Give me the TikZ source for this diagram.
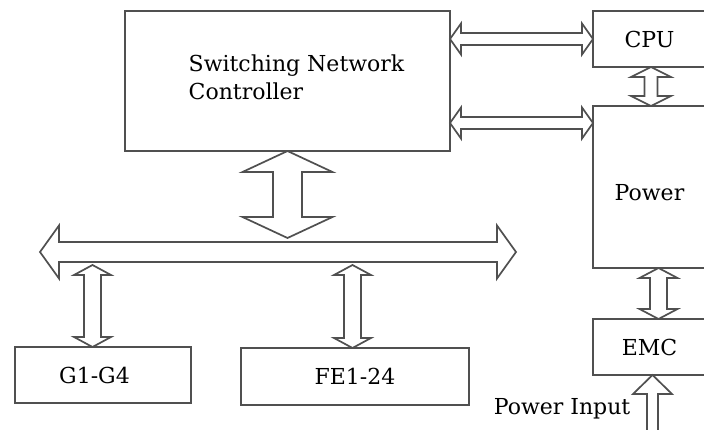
\documentclass[tikz,border=0pt]{standalone}
\usepackage{fontspec}
\setmainfont{DejaVu Serif}
\usetikzlibrary{calc}
\definecolor{linegray}{RGB}{80,80,80}
% double-headed block arrow: #1 end, #2 other end, #3 shaft half width, #4 head half width, #5 head length
\newcommand\blockdbl[5]{%
  \draw[blk] (#1) -- ($(#1)!#5!(#2)!#4!90:(#2)$) -- ($(#1)!#5!(#2)!#3!90:(#2)$)
    -- ($(#2)!#5!(#1)!#3!-90:(#1)$) -- ($(#2)!#5!(#1)!#4!-90:(#1)$) -- (#2)
    -- ($(#2)!#5!(#1)!#4!90:(#1)$) -- ($(#2)!#5!(#1)!#3!90:(#1)$)
    -- ($(#1)!#5!(#2)!#3!-90:(#2)$) -- ($(#1)!#5!(#2)!#4!-90:(#2)$) -- cycle;}
% single-headed block arrow: #1 tail, #2 tip
\newcommand\blocksgl[5]{%
  \draw[blk] ($(#1)!#3!90:(#2)$) -- ($(#2)!#5!(#1)!#3!-90:(#1)$) -- ($(#2)!#5!(#1)!#4!-90:(#1)$)
    -- (#2) -- ($(#2)!#5!(#1)!#4!90:(#1)$) -- ($(#2)!#5!(#1)!#3!90:(#1)$)
    -- ($(#1)!#3!-90:(#2)$) -- cycle;}
\newcommand\lowered[2]{\raisebox{-#1}[\height][\depth]{#2}}
\begin{document}
\begin{tikzpicture}[x=1pt,y=-1pt,
  ln/.style={draw=linegray, line width=1.7pt, line join=miter},
  lbl/.style={font=\fontsize{22}{29}\selectfont, text=black},
  box/.style={ln, lbl, rectangle, anchor=north west, outer sep=0pt, inner sep=0pt},
  blk/.style={ln, fill=white}]
\useasboundingbox (0,0) rectangle (704,430);
\clip (0,0) rectangle (704,430);
\fill[white] (0,0) rectangle (704,430);

\node[box, minimum width=325pt, minimum height=140pt, align=left] (snc) at (125,11) {\hspace*{18pt}\lowered{-1pt}{\begin{tabular}{@{}l@{}}Switching Network\\[-1pt]Controller\end{tabular}}};
\node[box, minimum width=113pt, minimum height=56pt] (cpu) at (593,11) {CPU};
\node[box, minimum width=113pt, minimum height=162pt] (power) at (593,106) {\lowered{6pt}{Power}};
\node[box, minimum width=113pt, minimum height=56pt] (emc) at (593,319) {EMC};
\node[box, minimum width=176pt, minimum height=56pt] (g) at (15,347) {G1-G4\hspace*{17pt}};
\node[box, minimum width=228pt, minimum height=57pt] (fe) at (241,348) {FE1-24};

\coordinate (busL) at (40,252);
\coordinate (busR) at (516,252);

% SNC <-> CPU, SNC <-> Power
\coordinate (a1s) at (snc.east |- cpu.west);
\blockdbl{a1s}{cpu.west}{6pt}{15.5pt}{11pt}
\coordinate (a2s) at ($(snc.north east)!0.8!(snc.south east)$);
\coordinate (a2e) at (a2s -| power.west);
\blockdbl{a2s}{a2e}{6pt}{15.5pt}{11pt}

% CPU <-> Power
\coordinate (c1) at ($(cpu.south)+(1.5,0)$);
\coordinate (c2) at (c1 |- power.north);
\blockdbl{c1}{c2}{6.5pt}{20pt}{10pt}

% Power <-> EMC
\coordinate (d1) at ($(power.south)+(9,0)$);
\coordinate (d2) at (d1 |- emc.north);
\blockdbl{d1}{d2}{8.5pt}{19pt}{10pt}

% Power input
\coordinate (e2) at ($(emc.south)+(3,0)$);
\coordinate (e1) at ($(e2)+(0,70)$);
\blocksgl{e1}{e2}{5.5pt}{19.5pt}{19pt}
\node[lbl, anchor=east, inner sep=0pt] (pin) at ($(e2)+(-22,34)$) {Power Input};

% bus
\blockdbl{busL}{busR}{10pt}{26.5pt}{19pt}

% SNC <-> bus
\coordinate (b0) at (snc.south |- busL);
\coordinate (b1) at ($(b0)+(0,-14)$);
\blockdbl{snc.south}{b1}{14.5pt}{45pt}{21pt}

% bus <-> G1-G4
\coordinate (g1) at ($(g.north)+(-10.5,0)$);
\coordinate (g0) at (g1 |- busL);
\coordinate (g2) at ($(g0)+(0,13)$);
\blockdbl{g2}{g1}{8.5pt}{18.5pt}{10pt}

% bus <-> FE1-24
\coordinate (f1) at ($(fe.north)+(-2.5,0)$);
\coordinate (f0) at (f1 |- busL);
\coordinate (f2) at ($(f0)+(0,13)$);
\blockdbl{f2}{f1}{8.5pt}{18.5pt}{10pt}
\end{tikzpicture}
\end{document}
